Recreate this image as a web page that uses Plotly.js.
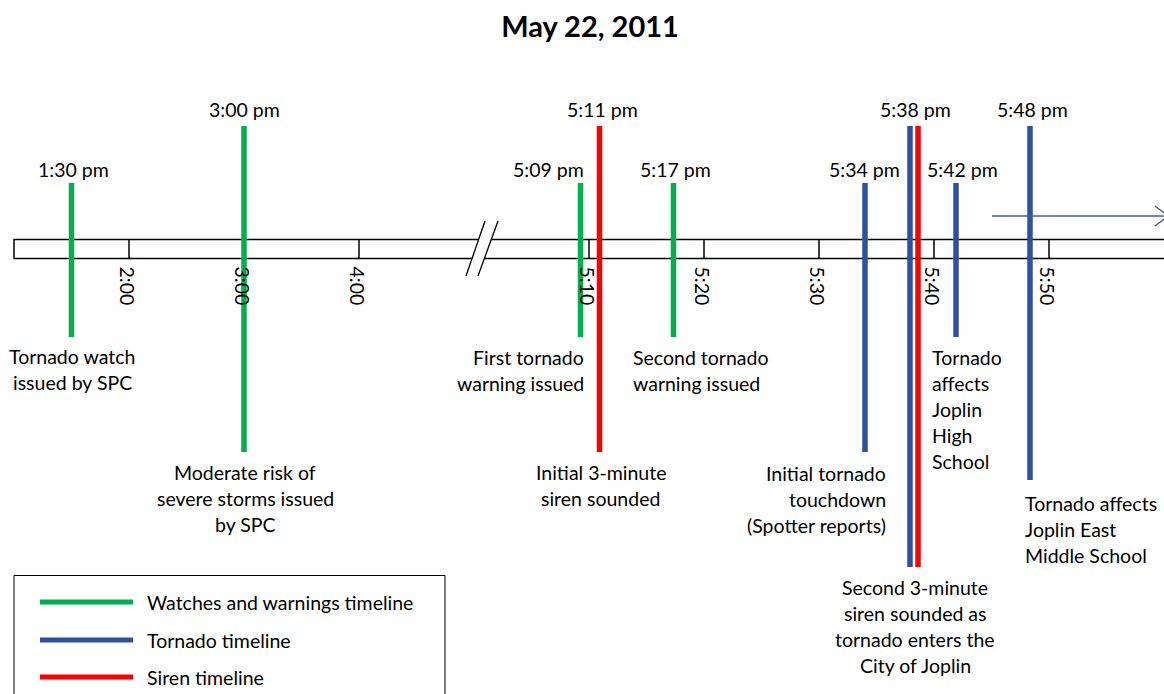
<!DOCTYPE html>
<html>
<head>
<meta charset="utf-8">
<script src="https://cdn.plot.ly/plotly-3.0.1.min.js"></script>
<style>html,body{margin:0;padding:0;background:#fff;}#chart{width:1164px;height:694px;}</style>
</head>
<body>
<div id="chart"></div>
<script>
// ---------------- DATA ----------------
const chartTitle = 'May 22, 2011';
const eventTimes = ['13:30', '15:00', '17:09', '17:11', '17:17', '17:34', '17:38', '17:38', '17:42', '17:48'];
const eventTimeLabels = ['1:30 pm', '3:00 pm', '5:09 pm', '5:11 pm', '5:17 pm', '5:34 pm', '5:38 pm', '', '5:42 pm', '5:48 pm'];
const eventTimelines = ['watch', 'watch', 'watch', 'siren', 'watch', 'tornado', 'tornado', 'siren', 'tornado', 'tornado'];
const eventDescriptions = [
  'Tornado watch\nissued by SPC',
  'Moderate risk of\nsevere storms issued\nby SPC',
  'First tornado\nwarning issued',
  'Initial 3-minute\nsiren sounded',
  'Second tornado\nwarning issued',
  'Initial tornado\ntouchdown\n(Spotter reports)',
  '',
  'Second 3-minute\nsiren sounded as\ntornado enters the\nCity of Joplin',
  'Tornado\naffects\nJoplin\nHigh\nSchool',
  'Tornado affects\nJoplin East\nMiddle School'
];
const axisTickTimes = ['14:00', '15:00', '16:00', '17:10', '17:20', '17:30', '17:40', '17:50'];
const axisTickLabels = ['2:00', '3:00', '4:00', '5:10', '5:20', '5:30', '5:40', '5:50'];
const timelineKeys = ['watch', 'tornado', 'siren'];
const timelineNames = ['Watches and warnings timeline', 'Tornado timeline', 'Siren timeline'];

// ---------------- STYLE / LAYOUT ----------------
const timelineColors = {watch: '#00B050', tornado: '#2E50A2', siren: '#FF0000'};
const FONT = 'Lato, Carlito, "Open Sans", sans-serif';
const FS = 19.5;
const W = 1164, H = 694;
const ORIGIN_PX = 14, UNIT_PX = 115;          // axis unit = one tick interval
const BAR_TOP = 239.5, BAR_BOT = 258.5;
const PAD_FIX = 2.5;                          // compensate annotation box padding
// per-event drawing layout (pixels)
const stemTop    = [183, 126, 183, 126, 183, 183, 126, 126, 183, 126];
const stemBottom = [337, 452, 337, 452, 337, 452, 567, 567, 337, 480];
const stemNudge  = [0, 0, 3, -1, 4, 0, -1, 7, -1, 4];
const timeAnchor = ['center', 'center', 'right', 'center', 'center', 'center', 'center', 'center', 'center', 'center'];
const timeShift  = [1.5, 0, 5.5, 1.5, 5.5, -1, 4, 0, 5, 6];
const descAnchor = ['center', 'center', 'right', 'center', 'left', 'right', 'center', 'center', 'left', 'left'];
const descShift  = [0.5, 1, 5.5, 0, -36.5, 20, 4, 4, -25, -1];
const descGap    = [19, 20, 20, 20, 20, 21, 20, 20, 20, 23];
const LINE_H = 26;

// piecewise time scale with a break between 4:00 and 5:10
function timeToPos(t) {
  const [h, m] = t.split(':').map(Number);
  const mins = h * 60 + m;
  if (mins < 17 * 60) return (mins - 13 * 60) / 60;      // 1 unit = 1 hour
  return 5 + (mins - (17 * 60 + 10)) / 10;               // 1 unit = 10 minutes
}
const pxToPos = px => (px - ORIGIN_PX) / UNIT_PX;
const posToPx = p => ORIGIN_PX + p * UNIT_PX;

const traces = [];
timelineKeys.forEach(key => {
  const xs = [], ys = [];
  eventTimes.forEach((t, i) => {
    if (eventTimelines[i] !== key) return;
    const x = timeToPos(t) + stemNudge[i] / UNIT_PX;
    xs.push(x, x, null);
    ys.push(stemTop[i], stemBottom[i], null);
  });
  traces.push({
    type: 'scatter', mode: 'lines', x: xs, y: ys,
    line: {color: timelineColors[key], width: 5.5}, hoverinfo: 'skip', showlegend: false
  });
});

const shapes = [];
const annotations = [];
const txt = (text, px, y, anchor, extra) => {
  const fix = anchor === 'left' ? -PAD_FIX : anchor === 'right' ? PAD_FIX : 0;
  return Object.assign({
    text: text, x: pxToPos(px + fix), y: y, xref: 'x', yref: 'y', showarrow: false,
    xanchor: anchor, yanchor: 'middle', font: {family: FONT, size: FS, color: '#000'}
  }, extra || {});
};

// timeline bar
shapes.push({type: 'rect', xref: 'x', yref: 'y', layer: 'below',
  x0: pxToPos(ORIGIN_PX), x1: pxToPos(W + 20), y0: BAR_TOP, y1: BAR_BOT,
  line: {color: '#000', width: 1.5}, fillcolor: '#fff'});
// ticks
axisTickTimes.forEach((t, i) => {
  const p = timeToPos(t);
  shapes.push({type: 'line', xref: 'x', yref: 'y', layer: 'below', x0: p, x1: p, y0: BAR_TOP, y1: BAR_BOT,
    line: {color: '#000', width: 1.5}});
  annotations.push(Object.assign(txt(axisTickLabels[i], posToPx(p) - 1.5, 286, 'center'), {textangle: 90}));
});
// axis break "//"
const s1 = y => 466 + (276 - y) * 19 / 55;
const s2 = y => 478 + (276 - y) * 20 / 55;
const pth = pts => 'M' + pts.map(([x, y]) => pxToPos(x) + ',' + y).join(' L') + ' Z';
shapes.push({type: 'path', xref: 'x', yref: 'y', layer: 'below',
  path: pth([[s1(236), 236], [s2(236), 236], [s2(261), 261], [s1(261), 261]]),
  fillcolor: '#fff', line: {width: 0}});
[[s1, 276, 221], [s2, 276, 221]].forEach(([f, ya, yb]) => {
  shapes.push({type: 'line', xref: 'x', yref: 'y', layer: 'below',
    x0: pxToPos(f(ya)), x1: pxToPos(f(yb)), y0: ya, y1: yb, line: {color: '#000', width: 1.3}});
});
// arrow at right
shapes.push({type: 'line', xref: 'x', yref: 'y', x0: pxToPos(992), x1: pxToPos(1170), y0: 216, y1: 216,
  line: {color: '#3A5BAE', width: 1.3}});
shapes.push({type: 'path', xref: 'x', yref: 'y',
  path: 'M' + pxToPos(1155) + ',206 L' + pxToPos(1168) + ',216 L' + pxToPos(1155) + ',226',
  line: {color: '#3A5BAE', width: 1.3}});

// event labels
eventTimes.forEach((t, i) => {
  const basePx = posToPx(timeToPos(t));
  if (eventTimeLabels[i]) {
    const ty = stemTop[i] === 126 ? 109.5 : 169;
    annotations.push(txt(eventTimeLabels[i], basePx + timeShift[i], ty, timeAnchor[i]));
  }
  if (eventDescriptions[i]) {
    eventDescriptions[i].split('\n').forEach((line, k) => {
      annotations.push(txt(line, basePx + descShift[i], stemBottom[i] + descGap[i] + k * LINE_H, descAnchor[i]));
    });
  }
});

// legend box
shapes.push({type: 'rect', xref: 'x', yref: 'y', x0: pxToPos(14), x1: pxToPos(445), y0: 575.5, y1: 720,
  line: {color: '#000', width: 1}, fillcolor: 'rgba(0,0,0,0)'});
const legY = [602, 640, 677];
timelineKeys.forEach((key, i) => {
  shapes.push({type: 'line', xref: 'x', yref: 'y', x0: pxToPos(40), x1: pxToPos(133), y0: legY[i], y1: legY[i],
    line: {color: timelineColors[key], width: 5}});
  annotations.push(txt(timelineNames[i], 147, legY[i], 'left'));
});

const layout = {
  width: W, height: H,
  margin: {l: 0, r: 0, t: 0, b: 0, pad: 0},
  paper_bgcolor: '#fff', plot_bgcolor: '#fff',
  title: {text: '<b>' + chartTitle + '</b>', x: 590 / W, xanchor: 'center', y: 1 - 27 / H, yanchor: 'middle',
    font: {family: FONT, size: 29, color: '#000'}},
  xaxis: {range: [pxToPos(0), pxToPos(W)], visible: false, fixedrange: true},
  yaxis: {range: [H, 0], visible: false, fixedrange: true},
  showlegend: false,
  shapes: shapes,
  annotations: annotations
};
Plotly.newPlot('chart', traces, layout, {staticPlot: true, displayModeBar: false});
</script>
</body>
</html>
